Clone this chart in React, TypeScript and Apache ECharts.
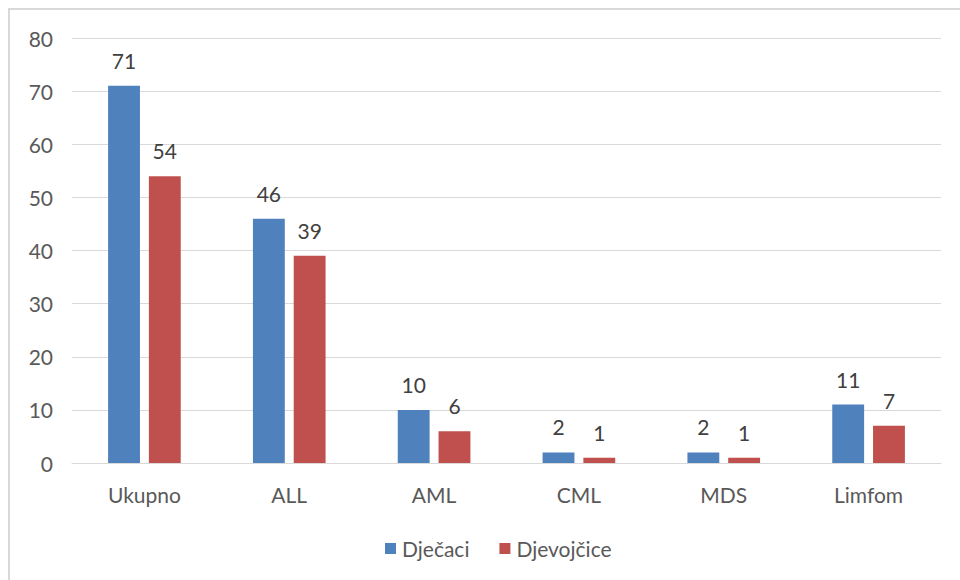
import React, { useEffect, useRef } from "react";
import * as echarts from "echarts";

const categories = ["Ukupno", "ALL", "AML", "CML", "MDS", "Limfom"];
const boys = [71, 46, 10, 2, 2, 11];
const girls = [54, 39, 6, 1, 1, 7];
const seriesNames = ["Dječaci", "Djevojčice"];

const FONT = "Lato, 'Open Sans', sans-serif";

export default function App() {
  const ref = useRef<HTMLDivElement>(null);
  useEffect(() => {
    if (!ref.current) return;
    const chart = echarts.init(ref.current, undefined, { renderer: "svg" });
    const labelStyle = {
      show: true,
      position: "top" as const,
      distance: 15,
      fontSize: 21,
      color: "#404040",
      fontFamily: FONT,
    };
    chart.setOption({
      animation: false,
      backgroundColor: "#ffffff",
      textStyle: { fontFamily: FONT },
      graphic: [
        {
          type: "rect",
          shape: { x: 9, y: 9, width: 1000, height: 1000 },
          style: { fill: "none", stroke: "#d9d9d9", lineWidth: 2 },
          silent: true,
        },
      ],
      grid: { left: 72, right: 19, top: 38, bottom: 117, containLabel: false },
      legend: {
        data: seriesNames,
        left: 380,
        top: 533,
        itemWidth: 11,
        itemHeight: 11,
        itemGap: 30,
        icon: "rect",
        textStyle: { fontSize: 21, color: "#595959", fontFamily: FONT, padding: [0, 0, 0, 1] },
      },
      xAxis: {
        type: "category",
        data: categories,
        axisLine: { show: true, lineStyle: { color: "#d9d9d9", width: 1 } },
        axisTick: { show: false },
        axisLabel: { fontSize: 21, color: "#595959", margin: 21, fontFamily: FONT },
      },
      yAxis: {
        type: "value",
        min: 0,
        max: 80,
        interval: 10,
        axisLine: { show: false },
        axisTick: { show: false },
        splitLine: { lineStyle: { color: "#d9d9d9", width: 1 } },
        axisLabel: { fontSize: 21, color: "#595959", margin: 19, fontFamily: FONT },
      },
      series: [
        {
          name: seriesNames[0],
          type: "bar",
          data: boys,
          barWidth: "22%",
          barGap: "28%",
          itemStyle: { color: "#4F81BD" },
          label: labelStyle,
        },
        {
          name: seriesNames[1],
          type: "bar",
          data: girls,
          barWidth: "22%",
          barGap: "28%",
          itemStyle: { color: "#C0504D" },
          label: labelStyle,
        },
      ],
    });
    return () => chart.dispose();
  }, []);
  return (
    <div
      style={{
        position: "fixed",
        left: 0,
        top: 0,
        width: 960,
        height: 580,
        overflow: "hidden",
        background: "#fff",
      }}
    >
      <div ref={ref} style={{ width: 960, height: 580 }} />
    </div>
  );
}
